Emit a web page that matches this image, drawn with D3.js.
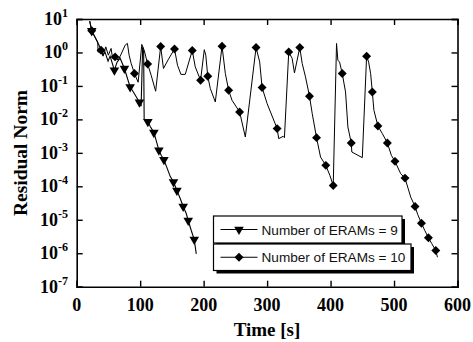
<!DOCTYPE html>
<html><head><meta charset="utf-8">
<script src="https://cdn.jsdelivr.net/npm/d3@7"></script>
<style>body{margin:0;background:#fff}svg{display:block}</style>
</head><body>
<svg id="c" width="473" height="342"></svg>
<script>
// ---- data ----
const eram9Time  = [20.5, 23.7, 28.9, 33.6, 36.8, 41.5, 44.7, 49.4, 52.6, 59.4, 63.6, 68.4, 75.2, 79.4, 84.2, 90.5, 98.8, 101.5, 103.9, 105.5, 106.3, 112.1, 115.7, 121.6, 125.2, 129.5, 133.1, 137.4, 142.6, 147.3, 152.5, 157.9, 163.1, 167.8, 172.6, 175.7, 180.5, 185.2, 188.4];
const eram9Resid = [8.65, 4.43, 2.87, 1.9, 1.44, 0.83, 1.02, 0.55, 0.775, 0.295, 0.513, 0.675, 0.332, 0.182, 0.0933, 0.0604, 0.0325, 0.0247, 1.44, 1.02, 0.0101, 0.00848, 0.00621, 0.00403, 0.00237, 0.00119, 0.000842, 0.000625, 0.000344, 0.000198, 0.000134, 7.54e-5, 4.34e-5, 2.5e-5, 1.54e-5, 9.5e-6, 4.78e-6, 2.57e-6, 9.6e-7];
const eram9Marks = [1, 9, 12, 14, 16, 21, 23, 25, 27, 30, 31, 33, 35, 37];

const eram10Time  = [20.5, 23.7, 28.9, 33.2, 33.6, 38.4, 41.5, 45.8, 49.9, 54.2, 56.5, 60.5, 65.2, 70.0, 76.3, 79.9, 82.6, 85.7, 91.0, 96.8, 102.6, 106.3, 111.8, 117.3, 124.4, 132.3, 136.7, 144.6, 154.1, 158.8, 164.2, 171.0, 182.1, 186.8, 195.2, 201.0, 203.4, 206.5, 210.5, 218.4, 229.0, 234.2, 239.4, 244.7, 256.7, 265.7, 282.6, 288.3, 292.1, 300.0, 315.8, 318.3, 325.3, 327.3, 334.1, 339.5, 343.1, 351.5, 355.3, 360.5, 366.8, 371.1, 377.9, 384.2, 392.5, 398.9, 404.2, 409.4, 411.5, 414.2, 418.4, 423.6, 427.3, 432.6, 433.5, 450.0, 456.8, 460.0, 463.1, 465.8, 468.3, 474.6, 481.6, 489.5, 495.8, 501.5, 510.5, 517.3, 526.3, 533.1, 537.3, 543.2, 548.4, 554.2, 559.4, 565.8, 568.4];
const eram10Resid = [8.65, 4.43, 2.87, 2.03, 1.02, 1.17, 0.775, 1.47, 0.83, 1.32, 0.675, 0.738, 0.588, 0.89, 1.65, 1.86, 0.83, 0.478, 0.235, 0.129, 1.74, 1.17, 0.453, 0.209, 0.0694, 1.51, 0.332, 0.63, 1.27, 0.417, 0.221, 0.221, 1.15, 0.371, 0.148, 1.21, 0.83, 0.195, 0.0836, 0.0332, 1.54, 0.235, 0.0744, 0.0373, 0.0167, 0.00297, 1.41, 0.523, 0.0895, 0.0297, 0.0053, 0.00266, 0.00312, 0.00285, 1.04, 0.661, 0.245, 1.41, 0.469, 0.186, 0.0492, 0.0149, 0.00285, 0.000748, 0.000423, 0.000212, 0.000106, 1.86, 0.588, 0.513, 0.235, 0.0661, 0.00592, 0.00197, 0.00106, 0.000718, 0.775, 0.513, 0.235, 0.0661, 0.0187, 0.00634, 0.00376, 0.00197, 0.000842, 0.000557, 0.000238, 0.000176, 4.75e-5, 2.5e-5, 1.44e-5, 7.9e-6, 4.8e-6, 2.89e-6, 1.95e-6, 1.2e-6, 7.6e-7];
const eram10Marks = [1, 5, 11, 18, 22, 25, 28, 32, 34, 37, 40, 42, 44, 46, 48, 50, 54, 57, 60, 62, 64, 66, 70, 73, 76, 79, 81, 83, 85, 87, 89, 91, 93, 95];

const xTicks = [0, 100, 200, 300, 400, 500, 600];
const yExponents = [1, 0, -1, -2, -3, -4, -5, -6, -7];
const legendLabels = ["Number of ERAMs = 9", "Number of ERAMs = 10"];

// ---- layout ----
const L = 76.7, R = 457.5, T = 19, B = 286.7;
const svg = d3.select("#c");
const x = d3.scaleLinear().domain([0, 600]).range([L, R]);
const y = d3.scaleLog().domain([1e-7, 10]).range([B, T]);
const serif = "'Liberation Serif','Times New Roman',serif";
const sans = "'Liberation Sans',Arial,Helvetica,sans-serif";

svg.append("rect").attr("width", 473).attr("height", 342).attr("fill", "#fff");

// axes with inward ticks
const tk = 6;
const yVals = yExponents.map(e => Math.pow(10, e));
svg.append("g").attr("transform", `translate(0,${B})`)
  .call(d3.axisBottom(x).tickValues(xTicks).tickSize(-tk).tickFormat(""));
svg.append("g").attr("transform", `translate(0,${T})`)
  .call(d3.axisTop(x).tickValues(xTicks).tickSize(-tk).tickFormat(""));
svg.append("g").attr("transform", `translate(${L},0)`)
  .call(d3.axisLeft(y).tickValues(yVals).tickSize(-tk).tickFormat(""));
svg.append("g").attr("transform", `translate(${R},0)`)
  .call(d3.axisRight(y).tickValues(yVals).tickSize(-tk).tickFormat(""));
svg.selectAll(".domain").attr("stroke", "#000").attr("stroke-width", 1.6);
svg.selectAll(".tick line").attr("stroke", "#000").attr("stroke-width", 1.4);

// x tick labels
svg.append("g").selectAll("text").data(xTicks).join("text")
  .attr("x", d => x(d)).attr("y", B + 24.5)
  .attr("text-anchor", "middle")
  .attr("font-family", serif).attr("font-weight", "bold").attr("font-size", 18)
  .text(d => d);

// y tick labels 10^n
const yl = svg.append("g").selectAll("text").data(yExponents).join("text")
  .attr("x", 68).attr("y", d => y(Math.pow(10, d)) + 6)
  .attr("text-anchor", "end")
  .attr("font-family", serif).attr("font-weight", "bold").attr("font-size", 18);
yl.append("tspan").text("10");
yl.append("tspan").attr("dy", -8).attr("font-size", 12).text(d => d);

// axis titles
svg.append("text").attr("x", 267).attr("y", 336)
  .attr("text-anchor", "middle")
  .attr("font-family", serif).attr("font-weight", "bold").attr("font-size", 19)
  .text("Time [s]");
svg.append("text").attr("transform", "translate(27,153) rotate(-90)")
  .attr("text-anchor", "middle")
  .attr("font-family", serif).attr("font-weight", "bold").attr("font-size", 19.5)
  .text("Residual Norm");

// series
const line = d3.line().x(d => x(d[0])).y(d => y(d[1]));
const s9 = eram9Time.map((t, i) => [t, eram9Resid[i]]);
const s10 = eram10Time.map((t, i) => [t, eram10Resid[i]]);
const plot = svg.append("g");
plot.append("path").datum(s10).attr("d", line).attr("fill", "none").attr("stroke", "#000").attr("stroke-width", 1);
plot.append("path").datum(s9).attr("d", line).attr("fill", "none").attr("stroke", "#000").attr("stroke-width", 1.1);

const tri = d3.symbol().type(d3.symbolTriangle).size(40)();
const dia = d3.symbol().type(d3.symbolSquare).size(40)();
plot.selectAll(".m10").data(eram10Marks.map(i => s10[i])).join("path")
  .attr("d", dia).attr("fill", "#000")
  .attr("transform", d => `translate(${x(d[0])},${y(d[1])}) rotate(45)`);
plot.selectAll(".m9").data(eram9Marks.map(i => s9[i])).join("path")
  .attr("d", tri).attr("fill", "#000")
  .attr("transform", d => `translate(${x(d[0])},${y(d[1])}) rotate(180)`);

// legend (two boxes with drop shadows)
const lg = svg.append("g");
const boxes = [
  {x0: 213.5, y0: 216, w: 188.5, h: 27, sym: tri, rot: 180},
  {x0: 213.5, y0: 244, w: 197.5, h: 26.5, sym: dia, rot: 45}
];
boxes.forEach((b, i) => {
  lg.append("rect").attr("x", b.x0 + 3).attr("y", b.y0 + 3).attr("width", b.w).attr("height", b.h).attr("fill", "#000");
  lg.append("rect").attr("x", b.x0).attr("y", b.y0).attr("width", b.w).attr("height", b.h)
    .attr("fill", "#fff").attr("stroke", "#000").attr("stroke-width", 1.2);
  const cy = b.y0 + b.h / 2;
  lg.append("line").attr("x1", 220.5).attr("x2", 257.5).attr("y1", cy).attr("y2", cy)
    .attr("stroke", "#000").attr("stroke-width", 1);
  lg.append("path").attr("d", b.sym).attr("fill", "#000")
    .attr("transform", `translate(239,${cy}) rotate(${b.rot})`);
  lg.append("text").attr("x", 261.5).attr("y", cy + 5)
    .attr("font-family", sans).attr("font-size", 13.6).attr("fill", "#111")
    .text(legendLabels[i]);
});
</script>
</body></html>
